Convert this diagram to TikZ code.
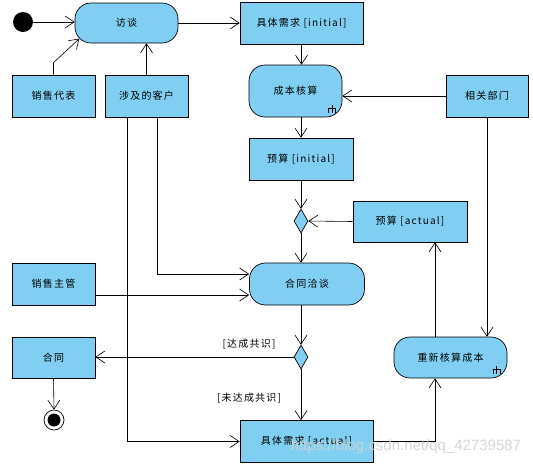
\documentclass[tikz,border=0pt]{standalone}
\usepackage{fontspec}
\setmainfont[LetterSpace=12]{Noto Sans CJK SC}
\newfontfamily\wmfont{Liberation Sans}
\usetikzlibrary{arrows.meta,shapes.geometric}
\definecolor{fillb}{RGB}{128,207,243}
\begin{document}
\begin{tikzpicture}[x=1pt,y=-1pt,
  box/.style={draw,fill=fillb,line width=0.7pt,minimum width=83pt,minimum height=42pt,inner sep=0pt,font=\fontsize{10}{11}\selectfont},
  act/.style={box,rounded corners=16pt},
  dec/.style={draw,fill=fillb,line width=0.7pt,diamond,minimum width=14pt,minimum height=24pt,inner sep=0pt},
  arr/.style={line width=0.6pt,-{Straight Barb[length=9pt,width=12pt,line width=0.6pt]}},
  lbl/.style={font=\fontsize{10}{11}\selectfont},
  rake/.pic={\draw[line width=0.6pt] (-3.5,-1) -- (3.5,-1) (-3.5,-1) -- (-3.5,4) (3.5,-1) -- (3.5,4) (0,-4) -- (0,4);}
]
\useasboundingbox (0,0) rectangle (533,467);
\fill[white] (0,0) rectangle (533,467);
% nodes
\node[circle,fill=black,minimum size=20pt,inner sep=0pt] (init) at (23,22) {};
\node[act,minimum width=103pt,minimum height=40pt] (ft) at (126.5,23) {访谈};
\node[box] (xs) at (53.5,96) {销售代表};
\node[box] (kh) at (146.5,96) {涉及的客户};
\node[box,minimum width=123pt] (req1) at (301.5,23) {具体需求 [initial]};
\node[act,minimum width=93pt,minimum height=52pt] (cb) at (295.5,91) {成本核算};
\node[box,minimum width=82pt] (bm) at (487,96) {相关部门};
\node[box,minimum width=104pt] (ys1) at (301,159) {预算 [initial]};
\node[dec] (d1) at (301,221) {};
\node[box,minimum width=114pt,minimum height=41pt] (ys2) at (410,221.5) {预算 [actual]};
\node[act,minimum width=115pt] (ht) at (307,284) {合同洽谈};
\node[box] (zg) at (53.5,284) {销售主管};
\node[dec] (d2) at (301,357) {};
\node[box,minimum height=41pt] (hetong) at (53.5,357.5) {合同};
\node[circle,draw,line width=0.7pt,minimum size=20pt,inner sep=0pt] (final) at (54,420) {};
\fill (final.center) circle (6.5pt);
\node[box,minimum width=133pt] (req2) at (306.5,441.5) {具体需求 [actual]};
\node[act,minimum width=113pt,minimum height=41pt] (cs) at (450.5,357.5) {重新核算成本};
% rake icons
\pic at ([shift={(-10.5,-8.5)}]cb.south east) {rake};
\pic at ([shift={(-11,-8.5)}]cs.south east) {rake};
% connectors
\draw[arr] (init.east) -- (init.east -| ft.west);
\draw[arr] (xs.north) -- ++(0,-12) -- ([shift={(4.7,-4.7)}]ft.south west);
\draw[arr] (kh.north) -- (kh.north |- ft.south);
\draw[arr] (ft.east) -- (req1.west);
\draw[arr] (req1.south) -- (req1.south |- cb.north);
\draw[arr] (ys1.north |- cb.south) -- (ys1.north);
\draw[arr] (bm.west) -- (bm.west -| cb.east);
\draw[arr] (bm.south) -- (bm.south |- cs.north);
\draw[arr] (ys1.south) -- (d1.north);
\draw[arr] (ys2.west) -- (d1.east);
\draw[arr] (d1.south) -- (d1.south |- ht.north);
\draw[arr] ([xshift=10.5pt]kh.south) |- ([yshift=10pt]ht.west);
\draw[arr] ([yshift=-11pt]ht.west -| zg.east) -- ([yshift=-11pt]ht.west);
\draw[arr] ([xshift=-19.5pt]kh.south) |- (req2.west);
\draw[arr] (d2.north |- ht.south) -- (d2.north);
\draw[arr] (d2.west) -- (d2.west -| hetong.east);
\node[lbl] at (249,344) {[达成共识]};
\draw[arr] (d2.south) -- (d2.south |- req2.north);
\node[lbl] at (249,398) {[未达成共识]};
\draw[arr] (hetong.south) -- (final.north);
\draw[arr] (req2.east) -| ([xshift=-15.5pt]cs.south);
\draw[arr] ([xshift=-15.5pt]cs.north) -- ([xshift=-15.5pt]cs.north |- ys2.south);
% watermark
\node[font=\wmfont\fontsize{15}{16}\selectfont,text=gray!35,opacity=0.9] at (406,447) {https://blog.csdn.net/qq\_42739587};
\end{tikzpicture}
\end{document}
